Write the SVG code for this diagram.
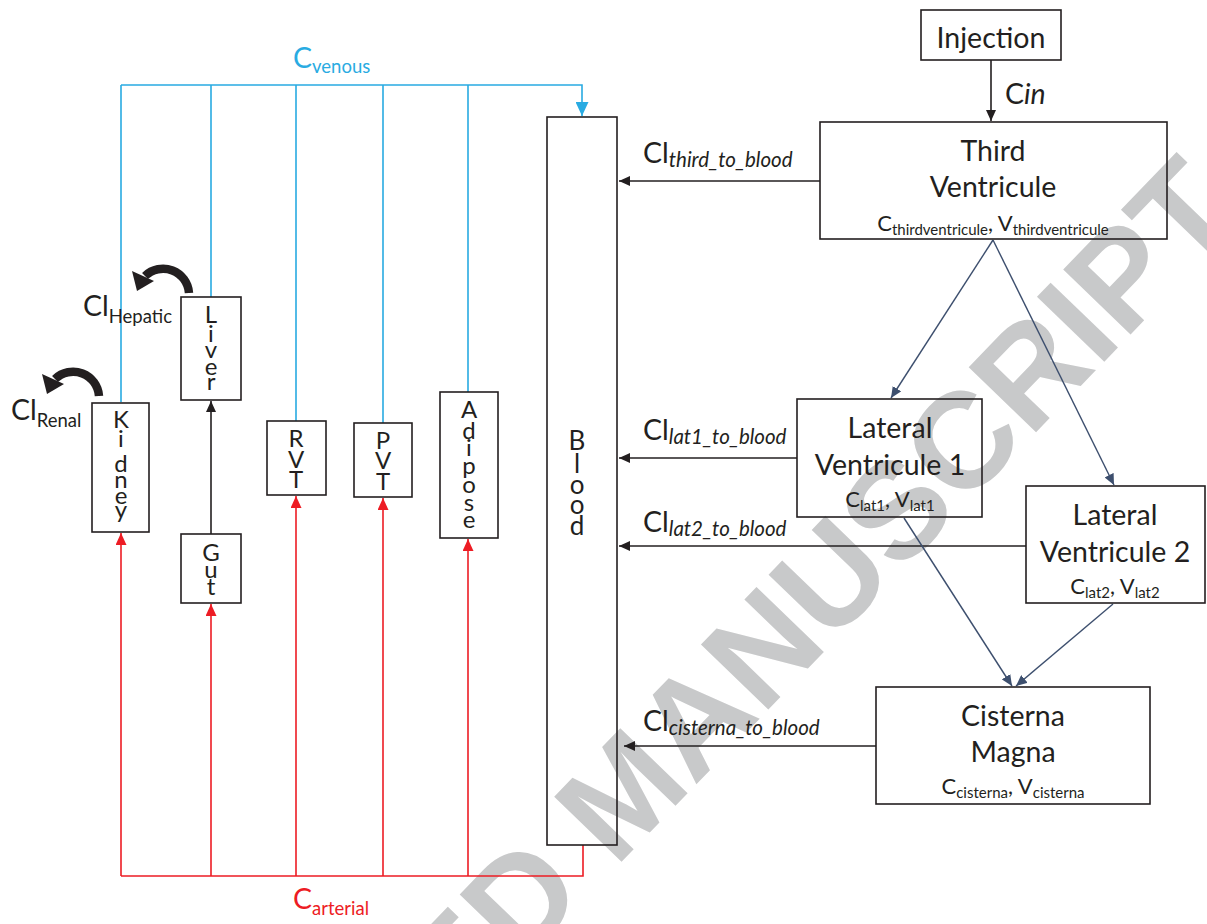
<svg xmlns="http://www.w3.org/2000/svg" width="1207" height="924" viewBox="0 0 1207 924">
<style>
.box{fill:none;stroke:#231f20;stroke-width:1.6}
.t{font-family:Lato,"Open Sans",sans-serif;fill:#231f20}
.big{font-size:28.5px}
.sub{font-size:18.5px}
.isub{font-size:20.5px;font-style:italic}
.it{font-style:italic}
.bc{font-size:22px}
.bs{font-size:15px}
.org{font-family:Lato,"Open Sans",sans-serif;fill:#231f20;font-size:24px;text-anchor:middle}
.mid{text-anchor:middle}
.bl{stroke:#29abe2;fill:none;stroke-width:1.6}
.rd{stroke:#ed1c24;fill:none;stroke-width:1.6}
.bk{stroke:#231f20;fill:none;stroke-width:1.6}
.sl{stroke:#3d4f6e;fill:none;stroke-width:1.4}
.wm{font-family:"Liberation Sans",Arial,sans-serif;font-weight:bold;font-size:136px;fill:#c8c9ca}
</style>
<defs>
<marker id="ab" markerUnits="userSpaceOnUse" markerWidth="12" markerHeight="10" refX="11" refY="5" orient="auto"><path d="M0,0 L11,5 L0,10 z" fill="#231f20"/></marker>
<marker id="ar" markerUnits="userSpaceOnUse" markerWidth="13" markerHeight="11" refX="12" refY="5.5" orient="auto"><path d="M0,0 L12,5.5 L0,11 z" fill="#ed1c24"/></marker>
<marker id="au" markerUnits="userSpaceOnUse" markerWidth="15" markerHeight="13" refX="14" refY="6.5" orient="auto"><path d="M0,0 L14,6.5 L0,13 z" fill="#29abe2"/></marker>
<marker id="as" markerUnits="userSpaceOnUse" markerWidth="12" markerHeight="10" refX="11" refY="5" orient="auto"><path d="M0,0 L11,5 L0,10 z" fill="#3d4f6e"/></marker>
</defs>
<rect width="1207" height="924" fill="#ffffff"/>
<text class="wm" text-anchor="end" transform="translate(1245,216) rotate(-46)">ACCEPTED MANUSCRIPT</text>

<g id="connectors">
<path class="bl" d="M121,85 H582 V116" stroke-width="2.6" marker-end="url(#au)"/>
<path class="bl" d="M121,85 V402 M211,85 V297 M296,85 V421 M383,85 V423 M468,85 V392"/>
<path class="rd" d="M121,876 H583 V845" stroke-width="2.6"/>
<path class="rd" d="M121,876 V533" marker-end="url(#ar)"/>
<path class="rd" d="M211,876 V604" marker-end="url(#ar)"/>
<path class="rd" d="M296,876 V496" marker-end="url(#ar)"/>
<path class="rd" d="M383,876 V498" marker-end="url(#ar)"/>
<path class="rd" d="M468,876 V539" marker-end="url(#ar)"/>
<path class="bk" d="M211,534 V401" marker-end="url(#ab)"/>
<path class="bk" d="M991,60 V121" marker-end="url(#ab)"/>
<path class="bk" d="M820,181 H619" marker-end="url(#ab)"/>
<path class="bk" d="M797,458 H619" marker-end="url(#ab)"/>
<path class="bk" d="M1026,546 H619" marker-end="url(#ab)"/>
<path class="bk" d="M876,746 H624" marker-end="url(#ab)"/>
<path class="sl" d="M993,240 L891,398" marker-end="url(#as)"/>
<path class="sl" d="M993,240 L1114,485" marker-end="url(#as)"/>
<path class="sl" d="M904,518 L1012,686" marker-end="url(#as)"/>
<path class="sl" d="M1113,604 L1016,686" marker-end="url(#as)"/>
<path d="M189,293 A26,26 0 0 0 145,276" fill="none" stroke="#231f20" stroke-width="8.5"/>
<path d="M137,291 L132,271 L154,281 z" fill="#231f20"/>
<path d="M99,396 A26,26 0 0 0 55,379" fill="none" stroke="#231f20" stroke-width="8.5"/>
<path d="M47,394 L42,374 L64,384 z" fill="#231f20"/>
</g>

<g id="labels">
<text class="t" x="293" y="68" style="fill:#29abe2"><tspan class="big">C</tspan><tspan class="sub" dy="5">venous</tspan></text>
<text class="t" x="293" y="909" style="fill:#ed1c24"><tspan class="big">C</tspan><tspan class="sub" dy="6">arterial</tspan></text>
<text class="t" x="1005" y="104"><tspan class="big">C</tspan><tspan class="big it">in</tspan></text>
<text class="t" x="643" y="163"><tspan class="big">Cl</tspan><tspan class="isub" dy="4">third_to_blood</tspan></text>
<text class="t" x="643" y="440"><tspan class="big">Cl</tspan><tspan class="isub" dy="4">lat1_to_blood</tspan></text>
<text class="t" x="643" y="532"><tspan class="big">Cl</tspan><tspan class="isub" dy="4">lat2_to_blood</tspan></text>
<text class="t" x="643" y="731"><tspan class="big">Cl</tspan><tspan class="isub" dy="4">cisterna_to_blood</tspan></text>
<text class="t" x="83" y="316"><tspan class="big">Cl</tspan><tspan class="sub" dy="7">Hepatic</tspan></text>
<text class="t" x="11" y="420"><tspan class="big">Cl</tspan><tspan class="sub" dy="7">Renal</tspan></text>
</g>

<g id="injection">
<rect class="box" x="921" y="10" width="140" height="50"/>
<text class="t big mid" x="991" y="48">Injection</text>
</g>
<g id="third-ventricule">
<rect class="box" x="820" y="122" width="347" height="117"/>
<text class="t big mid" x="993" y="161">Third</text>
<text class="t big mid" x="993" y="197">Ventricule</text>
<text class="t mid" x="993" y="231"><tspan class="bc">C</tspan><tspan class="bs" dy="4">thirdventricule</tspan><tspan class="bc" dy="-4">, V</tspan><tspan class="bs" dy="4">thirdventricule</tspan></text>
</g>
<g id="lateral-ventricule-1">
<rect class="box" x="797" y="399" width="185" height="118"/>
<text class="t big mid" x="890" y="438">Lateral</text>
<text class="t big mid" x="890" y="475">Ventricule 1</text>
<text class="t mid" x="890" y="507"><tspan class="bc">C</tspan><tspan class="bs" dy="4">lat1</tspan><tspan class="bc" dy="-4">, V</tspan><tspan class="bs" dy="4">lat1</tspan></text>
</g>
<g id="lateral-ventricule-2">
<rect class="box" x="1026" y="486" width="179" height="117"/>
<text class="t big mid" x="1115" y="525">Lateral</text>
<text class="t big mid" x="1115" y="562">Ventricule 2</text>
<text class="t mid" x="1115" y="594"><tspan class="bc">C</tspan><tspan class="bs" dy="4">lat2</tspan><tspan class="bc" dy="-4">, V</tspan><tspan class="bs" dy="4">lat2</tspan></text>
</g>
<g id="cisterna-magna">
<rect class="box" x="876" y="687" width="274" height="117"/>
<text class="t big mid" x="1013" y="726">Cisterna</text>
<text class="t big mid" x="1013" y="762">Magna</text>
<text class="t mid" x="1013" y="794"><tspan class="bc">C</tspan><tspan class="bs" dy="4">cisterna</tspan><tspan class="bc" dy="-4">, V</tspan><tspan class="bs" dy="4">cisterna</tspan></text>
</g>
<g id="blood">
<rect class="box" x="547" y="117" width="70" height="728"/>
<text class="org" style="font-size:26px"><tspan x="577" y="450">B</tspan><tspan x="577" y="473">l</tspan><tspan x="577" y="494">o</tspan><tspan x="577" y="514">o</tspan><tspan x="577" y="535">d</tspan></text>
</g>
<g id="kidney">
<rect class="box" x="92" y="403" width="57" height="129"/>
<text class="org"><tspan x="121" y="428">K</tspan><tspan x="121" y="447">i</tspan><tspan x="121" y="472">d</tspan><tspan x="121" y="488">n</tspan><tspan x="121" y="504">e</tspan><tspan x="121" y="518">y</tspan></text>
</g>
<g id="liver">
<rect class="box" x="181" y="297" width="60" height="103"/>
<text class="org"><tspan x="211" y="323">L</tspan><tspan x="211" y="342">i</tspan><tspan x="211" y="358">v</tspan><tspan x="211" y="375">e</tspan><tspan x="211" y="390">r</tspan></text>
</g>
<g id="gut">
<rect class="box" x="181" y="534" width="60" height="69"/>
<text class="org"><tspan x="211" y="561">G</tspan><tspan x="211" y="578">u</tspan><tspan x="211" y="595">t</tspan></text>
</g>
<g id="rvt">
<rect class="box" x="267" y="421" width="59" height="74"/>
<text class="org"><tspan x="296" y="447">R</tspan><tspan x="296" y="468">V</tspan><tspan x="296" y="488">T</tspan></text>
</g>
<g id="pvt">
<rect class="box" x="354" y="423" width="58" height="74"/>
<text class="org"><tspan x="383" y="449">P</tspan><tspan x="383" y="469">V</tspan><tspan x="383" y="490">T</tspan></text>
</g>
<g id="adipose">
<rect class="box" x="440" y="392" width="58" height="146"/>
<text class="org"><tspan x="469" y="418">A</tspan><tspan x="469" y="439">d</tspan><tspan x="469" y="456">i</tspan><tspan x="469" y="474">p</tspan><tspan x="469" y="493">o</tspan><tspan x="469" y="511">s</tspan><tspan x="469" y="528">e</tspan></text>
</g>
</svg>
